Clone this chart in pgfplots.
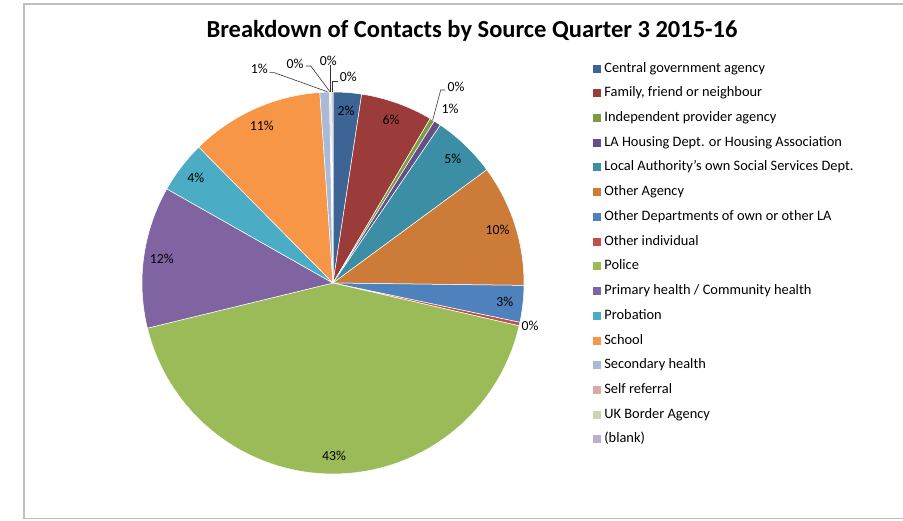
\documentclass[border=0pt]{standalone}
\usepackage{fontspec}
\setmainfont{Carlito}
\usepackage{pgfplots}
\pgfplotsset{compat=1.18}
\usepgfplotslibrary{polar}

% Excel-style slice colours
\definecolor{c01}{RGB}{60,101,150}
\definecolor{c02}{RGB}{156,60,58}
\definecolor{c03}{RGB}{126,155,66}
\definecolor{c04}{RGB}{102,79,134}
\definecolor{c05}{RGB}{59,142,163}
\definecolor{c06}{RGB}{205,123,56}
\definecolor{c07}{RGB}{79,129,189}
\definecolor{c08}{RGB}{192,80,77}
\definecolor{c09}{RGB}{155,187,89}
\definecolor{c10}{RGB}{128,100,162}
\definecolor{c11}{RGB}{75,172,198}
\definecolor{c12}{RGB}{247,150,70}
\definecolor{c13}{RGB}{169,185,216}
\definecolor{c14}{RGB}{217,169,168}
\definecolor{c15}{RGB}{200,216,172}
\definecolor{c16}{RGB}{186,176,206}

% running total of the percentages, slices go clockwise from 12 o'clock
\newcommand\cum{0}
% #1 colour, #2 percent, #3 legend text, #4 inside label (empty = none)
\newcommand{\slice}[4]{%
  \pgfmathsetmacro\aS{90-3.6*(\cum+#2)}%
  \pgfmathsetmacro\aE{90-3.6*\cum}%
  \pgfmathsetmacro\aM{90-3.6*(\cum+#2/2)}%
  \edef\doslice{\noexpand\addplot[fill=#1,draw=white,line width=0.5pt,
    domain=\aS:\aE,samples=60] {1} -- (axis cs:0,0) -- cycle;}%
  \doslice
  \addlegendentry{#3}
  \if\relax\detokenize{#4}\relax\else
    \edef\donode{\noexpand\node[font=\noexpand\fontsize{13.8}{16}\noexpand\selectfont]
      at (axis cs:\aM,0.905) {#4\noexpand\%};}%
    \donode
  \fi
  \pgfmathsetmacro\newcum{\cum+#2}\xdef\cum{\newcum}%
}

\begin{document}
\begin{tikzpicture}[x=1pt,y=1pt]
\path[use as bounding box] (0,0) rectangle (903,520);
\draw[line width=1.2pt,gray!50] (920,516) -- (24,516) -- (24,1.5) -- (920,1.5);
\node[font=\fontsize{24.5}{28}\selectfont\bfseries] at (472,489)
  {Breakdown of Contacts by Source Quarter 3 2015-16};

\begin{polaraxis}[
    hide axis, scale only axis,
    width=382pt, height=382pt,
    ymin=0, ymax=1,
    at={(333pt,237pt)}, anchor=center,
    clip=false,
    legend style={at={(1.1798,1.079)}, anchor=north west,
      draw=none, fill=none, inner sep=0pt,
      font=\fontsize{14.4}{16}\selectfont,
      nodes={inner sep=0pt, text height=10pt, text depth=3pt},
      row sep=11.73pt, column sep=3.5pt},
    legend cell align=left,
    legend image code/.code={\fill[#1,draw=none] (0pt,-4pt) rectangle (8pt,4pt);},
  ]
\slice{c01}{2.4}{Central government agency}{2}
\slice{c02}{6.1}{Family, friend or neighbour}{6}
\slice{c03}{0.4}{Independent provider agency}{}
\slice{c04}{0.6}{LA Housing Dept. or Housing Association}{}
\slice{c05}{5.4}{Local Authority's own Social Services Dept.}{5}
\slice{c06}{10.3}{Other Agency}{10}
\slice{c07}{3.1}{Other Departments of own or other LA}{3}
\slice{c08}{0.3}{Other individual}{}
\slice{c09}{42.6}{Police}{43}
\slice{c10}{12.0}{Primary health / Community health}{12}
\slice{c11}{4.4}{Probation}{4}
\slice{c12}{11.3}{School}{11}
\slice{c13}{0.8}{Secondary health}{}
\slice{c14}{0.1}{Self referral}{}
\slice{c15}{0.1}{UK Border Agency}{}
\slice{c16}{0.1}{(blank)}{}
\end{polaraxis}

% labels of the thin slices, set outside with leader lines
\begin{scope}[font=\fontsize{13.8}{16}\selectfont]
\draw[black!80,line width=0.6pt] (432.7,400) -- (440.7,430) -- (445,430);
\node at (456,433.3) {0\%};
\node at (450,411) {1\%};
\node at (530,194) {0\%};
\draw[black!80,line width=0.6pt] (269.3,447.3) -- (274.3,447.3) -- (327.3,428.3);
\node at (259.3,451) {1\%};
\draw[black!80,line width=0.6pt] (306,454) -- (310.7,454) -- (330,428.3);
\node at (295,456) {0\%};
\draw[black!80,line width=0.6pt] (330.7,455) -- (330.7,428.3);
\node at (328.3,459.3) {0\%};
\draw[black!80,line width=0.6pt] (332.7,428.3) -- (332.7,438.3) -- (338.3,438.3);
\node at (348.3,442.7) {0\%};
\end{scope}
\end{tikzpicture}
\end{document}
